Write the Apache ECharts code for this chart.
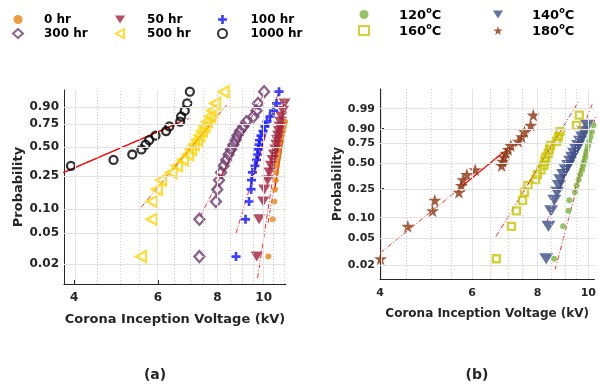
<!DOCTYPE html>
<html><head><meta charset="utf-8">
<script src="https://cdn.jsdelivr.net/npm/echarts@6/dist/echarts.min.js"></script>
<style>html,body{margin:0;padding:0;background:#fff}#c{width:599px;height:384px}</style>
</head><body><div id="c"></div>
<script>
// ---------- data (voltage in kV, probability as plotted) ----------
const plotPos = [0.025,0.075,0.125,0.175,0.225,0.275,0.325,0.375,0.425,0.475,0.525,0.575,0.625,0.675,0.725,0.775,0.825,0.875,0.925,0.975];

// panel (a): ageing time
const v0hr    = [10.23,10.45,10.53,10.56,10.60,10.63,10.67,10.70,10.74,10.78,10.83,10.87,10.93,10.98,11.03,11.09];
const v50hr   = [9.67,9.78,9.98,10.03,10.19,10.28,10.36,10.44,10.51,10.58,10.63,10.67,10.72,10.76,10.80,10.84,10.89,10.98,11.06];
const v100hr  = [8.75,9.16,9.32,9.41,9.43,9.47,9.59,9.66,9.70,9.74,9.78,9.80,9.87,9.97,10.06,10.16,10.31,10.49,10.64,10.77];
const v300hr  = [7.33,7.33,7.94,7.99,8.06,8.14,8.24,8.34,8.44,8.54,8.64,8.73,8.81,8.92,9.07,9.20,9.52,9.66,9.73,10.02];
const v500hr  = [5.53,5.82,5.83,5.97,6.09,6.41,6.58,6.77,6.94,7.04,7.14,7.25,7.33,7.42,7.51,7.61,7.72,7.81,7.91,8.24];
const v1000hr = [3.94,4.84,5.30,5.54,5.65,5.75,5.93,6.24,6.34,6.68,6.71,6.83,6.91,7.00];
const p0hr    = plotPos.slice(0,16);
const p50hr   = plotPos.slice(0,19);
const p1000hr = plotPos.slice(6);

// panel (b): temperature
const v120 = [8.60,8.95,9.16,9.20,9.43,9.50,9.58,9.65,9.73,9.77,9.81,9.86,9.90,9.94,9.99,10.04,10.10,10.16,10.23];
const v140 = [8.31,8.39,8.49,8.61,8.71,8.78,8.84,8.95,9.05,9.15,9.23,9.31,9.39,9.48,9.56,9.64,9.73,9.81,9.94];
const v160 = [6.67,7.13,7.29,7.49,7.55,7.67,7.93,7.99,8.12,8.22,8.26,8.29,8.38,8.43,8.47,8.70,8.77,8.83,9.49,9.61];
const v180 = [4.01,4.52,5.04,5.09,5.66,5.72,5.76,5.86,6.08,6.83,6.86,6.90,6.96,7.03,7.11,7.35,7.46,7.55,7.76,7.85];
const p120 = plotPos.slice(0,19);
const p140 = plotPos.slice(0,19);

// reference lines: [start, solid start, solid end, end] as [kV, probability]
const fit0hr    = [[10.21,0.0674],[10.54,0.172],[10.98,0.575],[11.19,0.838]];
const fit50hr   = [[9.71,0.0131],[10.16,0.2256],[10.72,0.708],[11.03,0.915]];
const fit100hr  = [[8.75,0.0498],[9.45,0.2256],[10.06,0.610],[10.77,0.9785]];
const fit300hr  = [[7.35,0.0809],[8.14,0.25],[9.14,0.689],[10.02,0.971]];
const fit500hr  = [[5.53,0.106],[6.45,0.299],[7.75,0.754],[8.36,0.915]];
const fit1000hr = [[3.39,0.210],[3.39,0.210],[6.67,0.768],[6.98,0.808]];
const fit120 = [[8.64,0.0172],[9.41,0.227],[9.92,0.682],[10.32,0.969]];
const fit140 = [[8.34,0.0897],[8.78,0.234],[9.58,0.791],[10.18,0.9958]];
const fit160 = [[6.66,0.0531],[7.67,0.285],[8.78,0.854],[9.58,0.9973]];
const fit180 = [[4.00,0.0302],[5.72,0.266],[6.87,0.635],[7.85,0.903]];

// axis ticks
const xTicks = [4,6,8,10];
const xGridMinor = [4.5,5,5.5,6.5,7,7.5,8.5,9,9.5,10.5,11];
const yTicksA = ['0.02','0.05','0.10','0.25','0.50','0.75','0.90'];
const yTicksB = ['0.02','0.05','0.10','0.25','0.50','0.75','0.90','0.99'];

// ---------- helpers ----------
const W = p => Math.log(-Math.log(1 - p));   // Weibull probability scale
const X = v => Math.log(v);                  // log voltage scale
const pts = (vs, ps) => vs.map((v,i) => [X(v), W(ps[i])]);
const FF = 'DejaVu Sans';
const TXT = '#262626';
const PLUS = 'path://M35,0H65V35H100V65H65V100H35V65H0V35H35Z';
const STAR = 'path://M50,0L61,35L98,35L68,57L79,91L50,70L21,91L32,57L2,35L39,35Z';
const TRI_DOWN = 'path://M0,0L100,0L50,80Z';
const TRI_LEFT = 'path://M0,50L90,0L90,100Z';

function fitSeries(f, gi) {
  const d = f.map(q => [X(q[0]), W(q[1])]);
  return [
    {type:'line', name:'ref', xAxisIndex:gi, yAxisIndex:gi, data:[d[0],d[3]], symbol:'none', clip:true, silent:true, z:1,
     lineStyle:{color:'#ff2a2a', width:1, type:[5,2,1,2]}},
    {type:'line', name:'ref', xAxisIndex:gi, yAxisIndex:gi, data:[d[1],d[2]], symbol:'none', clip:true, silent:true, z:1,
     lineStyle:{color:'#ff0000', width:1.2, type:'solid'}}
  ];
}
function scat(name, vs, ps, gi, sym, size, style) {
  return {type:'scatter', name:name, xAxisIndex:gi, yAxisIndex:gi, data:pts(vs, ps), symbol:sym, symbolSize:size,
          clip:true, silent:true, z:3, itemStyle:style};
}
function gridLines(gi, yLabels) {
  const data = [];
  yLabels.forEach(t => data.push({yAxis: W(parseFloat(t)), lineStyle:{type:'solid', color:'#e2e2e2', width:1}}));
  xTicks.forEach(v => data.push({xAxis: X(v), lineStyle:{type:'solid', color:'#e4e4e4', width:1}}));
  xGridMinor.forEach(v => data.push({xAxis: X(v), lineStyle:{type:[1,2], color:'#cfcfcf', width:1}}));
  return {type:'line', name:'grid', xAxisIndex:gi, yAxisIndex:gi, data:[], z:0, silent:true,
          markLine:{silent:true, symbol:'none', label:{show:false}, animation:false, data:data}};
}
function xAxisDef(gi, min, max, fs, nfs, gap, margin) {
  return {gridIndex:gi, type:'value', min:X(min), max:X(max),
    name:'Corona Inception Voltage (kV)', nameLocation:'middle', nameGap:gap,
    nameTextStyle:{fontFamily:FF, fontWeight:'bold', fontSize:nfs, color:TXT},
    axisLine:{show:true, onZero:false, lineStyle:{color:TXT, width:1}},
    axisTick:{show:true, inside:true, length:4, customValues:xTicks.map(X), lineStyle:{color:TXT}},
    axisLabel:{customValues:xTicks.map(X), formatter:v => String(Math.round(Math.exp(v))),
      fontFamily:FF, fontWeight:'bold', fontSize:fs, color:TXT, margin:margin},
    splitLine:{show:false}};
}
function yAxisDef(gi, min, max, labels, fs, nfs, gap) {
  const vals = labels.map(t => W(parseFloat(t)));
  return {gridIndex:gi, type:'value', min:min, max:max,
    name:'Probability', nameLocation:'middle', nameGap:gap,
    nameTextStyle:{fontFamily:FF, fontWeight:'bold', fontSize:nfs, color:TXT},
    axisLine:{show:true, onZero:false, lineStyle:{color:TXT, width:1}},
    axisTick:{show:true, inside:true, length:4, customValues:vals, lineStyle:{color:TXT}},
    axisLabel:{customValues:vals, margin:5, fontFamily:FF, fontWeight:'bold', fontSize:fs, color:TXT,
      formatter:v => { let b = 0; vals.forEach((q,i) => { if (Math.abs(q - v) < Math.abs(vals[b] - v)) b = i; }); return labels[b]; }},
    splitLine:{show:false}};
}
const legTxt = (pad, fs) => ({fontFamily:FF, fontWeight:'bold', fontSize:fs, color:'#000', padding:[0,0,0,pad], lineHeight:13,
  rich:{n:{fontFamily:FF, fontWeight:'bold', fontSize:fs, color:'#000', lineHeight:15, verticalAlign:'bottom'},
        s:{fontFamily:FF, fontWeight:'bold', fontSize:8, color:'#000', lineHeight:9, verticalAlign:'top'}}});
function legend(names, left, top, pad, fs, gap, rich) {
  const L = {data:names, left:left, top:top, orient:'vertical', itemGap:gap, itemWidth:10, itemHeight:9,
             textStyle:legTxt(pad, fs), selectedMode:false};
  if (rich) L.formatter = n => '{n|' + n.replace('°C','') + '}{s|o}{n|C}';
  return L;
}

const hollow = c => ({color:'rgba(0,0,0,0)', borderColor:c, borderWidth:2.3});

const series = [
  gridLines(0, yTicksA), gridLines(1, yTicksB),
  ...fitSeries(fit0hr,0), ...fitSeries(fit50hr,0), ...fitSeries(fit100hr,0),
  ...fitSeries(fit300hr,0), ...fitSeries(fit500hr,0), ...fitSeries(fit1000hr,0),
  ...fitSeries(fit120,1), ...fitSeries(fit140,1), ...fitSeries(fit160,1), ...fitSeries(fit180,1),
  scat('0 hr', v0hr, p0hr, 0, 'circle', 6, {color:'#e8830f'}),
  scat('50 hr', v50hr, p50hr, 0, TRI_DOWN, [12,10], {color:'#a3213d'}),
  scat('100 hr', v100hr, plotPos, 0, PLUS, 9, {color:'#0a12ff'}),
  scat('300 hr', v300hr, plotPos, 0, 'diamond', [10,11], hollow('#6d3b6d')),
  scat('500 hr', v500hr, plotPos, 0, TRI_LEFT, [10,11], hollow('#ffd400')),
  scat('1000 hr', v1000hr, p1000hr, 0, 'circle', 8, hollow('#000000')),
  scat('120°C', v120, p120, 1, 'circle', 6, {color:'#79b540'}),
  scat('140°C', v140, p140, 1, TRI_DOWN, [14,11], {color:'#3c5089'}),
  scat('160°C', v160, plotPos, 1, 'rect', 7, hollow('#c8c600')),
  scat('180°C', v180, plotPos, 1, STAR, 13, {color:'#8d3510'})
];

const option = {
  animation:false,
  backgroundColor:'#ffffff',
  grid:[{left:64, top:90, width:222, height:194}, {left:380, top:89, width:216, height:190}],
  xAxis:[xAxisDef(0, 3.81, 11.14, 12, 13, 29, 8), xAxisDef(1, 4.0, 10.27, 11, 12, 29, 9)],
  yAxis:[yAxisDef(0, -4.506, 1.357, yTicksA, 12, 13, 39), yAxisDef(1, -4.378, 2.211, yTicksB, 11, 12, 35)],
  legend:[
    legend(['0 hr','300 hr'], 7, 8, 16, 12, 1, false),
    legend(['50 hr','500 hr'], 110, 8, 17, 12, 1, false),
    legend(['100 hr','1000 hr'], 212, 8, 18, 12, 1, false),
    legend(['120°C','160°C'], 353, 2, 25, 13, 1, true),
    legend(['140°C','180°C'], 488, 2, 24, 13, 1, true)
  ],
  title:[
    {text:'(a)', left:150, top:363, textAlign:'center', textStyle:{fontFamily:FF, fontWeight:'bold', fontSize:14, color:TXT}},
    {text:'(b)', left:472, top:363, textAlign:'center', textStyle:{fontFamily:FF, fontWeight:'bold', fontSize:14, color:TXT}}
  ],
  series:series
};
const chart = echarts.init(document.getElementById('c'), null, {renderer:'canvas'});
chart.setOption(option);
</script></body></html>
